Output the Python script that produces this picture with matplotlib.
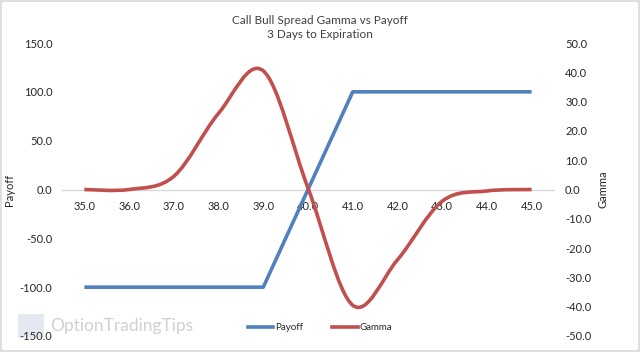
import matplotlib.pyplot as plt
import numpy as np
from matplotlib.path import Path
from matplotlib.patches import PathPatch, Rectangle
from matplotlib.lines import Line2D
from matplotlib.ticker import FormatStrFormatter

plt.rcParams['font.family'] = ['Lato', 'DejaVu Sans']

# data
strike = [35.0, 36.0, 37.0, 38.0, 39.0, 40.0, 41.0, 42.0, 43.0, 44.0, 45.0]
payoff = [-100, -100, -100, -100, -100, 0, 100, 100, 100, 100, 100]
gamma = [0.0, 0.0, 4.5, 26.0, 40.5, 0.5, -39.5, -24.0, -4.0, -0.5, 0.0]

blue = '#4F81BD'
red = '#C0504D'
txt = '#262626'

fig = plt.figure(figsize=(6.4, 3.52), dpi=100)
ax = fig.add_axes([62 / 640, 1 - 336 / 352, 492 / 640, 293 / 352])
ax.set_facecolor('none')
ax2 = ax.twinx()

ax.plot(strike, payoff, color=blue, lw=2.6, solid_capstyle='butt', zorder=3)


# excel style smoothed line -> bezier path
def smooth_path(x, y):
    n = len(x)
    verts = [(x[0], y[0])]
    codes = [Path.MOVETO]
    for i in range(n - 1):
        x0, y0 = x[max(i - 1, 0)], y[max(i - 1, 0)]
        x3, y3 = x[min(i + 2, n - 1)], y[min(i + 2, n - 1)]
        c1 = (x[i] + (x[i + 1] - x0) / 6, y[i] + (y[i + 1] - y0) / 6)
        c2 = (x[i + 1] - (x3 - x[i]) / 6, y[i + 1] - (y3 - y[i]) / 6)
        verts += [c1, c2, (x[i + 1], y[i + 1])]
        codes += [Path.CURVE4] * 3
    return Path(verts, codes)


ax2.add_patch(PathPatch(smooth_path(strike, gamma), fill=False, edgecolor=red,
                        lw=2.6, capstyle='butt', zorder=3))

ax.set_xlim(34.5, 45.5)
ax.set_ylim(-150, 150)
ax2.set_ylim(-50, 50)
ax.set_xticks(strike)
ax.set_yticks(np.arange(-150, 151, 50))
ax2.set_yticks(np.arange(-50, 51, 10))
ax.xaxis.set_major_formatter(FormatStrFormatter('%.1f'))
ax.yaxis.set_major_formatter(FormatStrFormatter('%.1f'))
ax2.yaxis.set_major_formatter(FormatStrFormatter('%.1f'))

for a in (ax, ax2):
    for s in a.spines.values():
        s.set_visible(False)
    a.tick_params(length=0, labelsize=8, labelcolor=txt)
ax.spines['bottom'].set_visible(True)
ax.spines['bottom'].set_position(('data', 0))
ax.spines['bottom'].set_color('#D9D9D9')
ax.spines['bottom'].set_linewidth(1)
ax.tick_params(axis='x', pad=8)
ax.tick_params(axis='y', pad=7)
ax2.tick_params(axis='y', pad=8)

ax.set_ylabel('Payoff', fontsize=8, color=txt)
ax.yaxis.set_label_coords(-0.096, 0.5)
ax2.set_ylabel('Gamma', fontsize=8, color=txt, rotation=90)
ax2.yaxis.set_label_coords(1.088, 0.5)

fig.text(0.5, 1 - 20 / 352, 'Call Bull Spread Gamma vs Payoff', ha='center', va='center',
         fontsize=8.5, color='#404040')
fig.text(0.5, 1 - 35 / 352, '3 Days to Expiration', ha='center', va='center',
         fontsize=8.5, color='#404040')

handles = [Line2D([], [], color=blue, lw=2.6), Line2D([], [], color=red, lw=2.6)]
fig.legend(handles, ['Payoff', 'Gamma'], loc='center', bbox_to_anchor=(0.5, 1 - 328 / 352),
           ncol=2, frameon=False, fontsize=7, handlelength=2.6, handletextpad=0.2,
           columnspacing=3.0, labelcolor=txt)

# watermark (behind the axes)
fig.text(50 / 640, 1 - 326 / 352, 'OptionTradingTips', fontsize=12.5, color='#D0D0D0',
         va='center', ha='left', zorder=-1)
fig.patches.append(Rectangle((18 / 640, 1 - 338 / 352), 26 / 640, 24 / 352,
                             transform=fig.transFigure, facecolor='#E4E8F0',
                             edgecolor='none', zorder=-1))

# outer frame
fig.patches.append(Rectangle((0.001, 0.002), 0.997, 0.995, transform=fig.transFigure,
                             fill=False, edgecolor='#D9D9D9', lw=1.2))

fig.savefig('out.png', dpi=100)
